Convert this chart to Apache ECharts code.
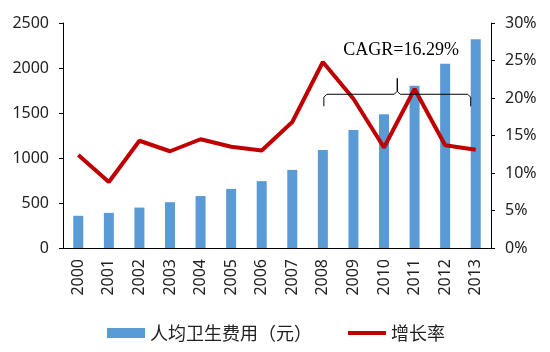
<!DOCTYPE html>
<html>
<head>
<meta charset="utf-8">
<script src="https://cdn.jsdelivr.net/npm/echarts@6/dist/echarts.min.js"></script>
<style>
  html, body { margin: 0; padding: 0; background: #fff; }
  #main { width: 550px; height: 352px; }
</style>
</head>
<body>
<div id="main"></div>
<script>
var years = ["2000", "2001", "2002", "2003", "2004", "2005", "2006", "2007", "2008", "2009", "2010", "2011", "2012", "2013"];
// 人均卫生费用（元）
var perCapita = [358, 390, 449, 509, 577, 657, 743, 868, 1090, 1312, 1487, 1803, 2048, 2320];
// 增长率 (%)
var growthRate = [12.4, 8.8, 14.3, 12.9, 14.5, 13.5, 13.0, 16.8, 24.8, 19.9, 13.4, 21.2, 13.7, 13.1];
var leftTicks = { min: 0, max: 2500, interval: 500 };
var rightTicks = { min: 0, max: 30, interval: 5 };
var cagrText = "CAGR=16.29%";

var myChart = echarts.init(document.getElementById("main"));

var labelFont = { fontFamily: "Noto Sans", fontSize: 16, color: "#222" };

var option = {
  animation: false,
  grid: { left: 63, right: 59, top: 23, bottom: 104 },
  legend: {
    bottom: 5,
    left: 102,
    itemGap: 34,
    itemWidth: 38,
    itemHeight: 10,
    textStyle: { fontFamily: "Noto Sans CJK SC", fontSize: 18, color: "#222" },
    data: [
      { name: "人均卫生费用（元）", icon: "rect" },
      { name: "增长率", itemStyle: { opacity: 0 }, lineStyle: { width: 4, color: "#C00000" } }
    ]
  },
  xAxis: {
    type: "category",
    data: years,
    axisLine: { lineStyle: { color: "#000", width: 1 } },
    axisTick: { show: false },
    axisLabel: Object.assign({ rotate: 90, margin: 11 }, labelFont)
  },
  yAxis: [
    {
      type: "value",
      min: leftTicks.min,
      max: leftTicks.max,
      interval: leftTicks.interval,
      axisLine: { show: true, lineStyle: { color: "#000" } },
      axisTick: { show: true, length: 4, lineStyle: { color: "#000" } },
      splitLine: { show: false },
      axisLabel: Object.assign({ margin: 14, formatter: function (v) { return String(v); } }, labelFont)
    },
    {
      type: "value",
      min: rightTicks.min,
      max: rightTicks.max,
      interval: rightTicks.interval,
      axisLine: { show: true, lineStyle: { color: "#000" } },
      axisTick: { show: true, length: 4, lineStyle: { color: "#000" } },
      splitLine: { show: false },
      axisLabel: Object.assign({ margin: 14, formatter: function (v) { return v + "%"; } }, labelFont)
    }
  ],
  series: [
    {
      name: "人均卫生费用（元）",
      type: "bar",
      data: perCapita,
      barWidth: 10,
      itemStyle: { color: "#5B9BD5" }
    },
    {
      name: "增长率",
      type: "line",
      yAxisIndex: 1,
      data: growthRate,
      symbol: "none",
      lineStyle: { color: "#C00000", width: 4 },
      itemStyle: { color: "#C00000" },
      z: 5
    }
  ]
};

myChart.setOption(option);

/* -- brace + CAGR label, placed from the axis scale -- */
var p0 = myChart.convertToPixel({ xAxisIndex: 0 }, "2008");
var p1 = myChart.convertToPixel({ xAxisIndex: 0 }, "2013");
var yLine = myChart.convertToPixel({ yAxisIndex: 1 }, 20.5);
var xl = p0 + 1, xr = p1 - 5, xm = (xl + xr) / 2;

myChart.setOption({
  graphic: [
    {
      type: "polyline",
      shape: {
        points: [
          [xl, yLine + 12], [xl, yLine + 3], [xl + 3, yLine],
          [xm - 3, yLine], [xm, yLine - 3], [xm, yLine - 16],
          [xm, yLine - 3], [xm + 3, yLine],
          [xr - 3, yLine], [xr, yLine + 3], [xr, yLine + 12]
        ]
      },
      style: { fill: null, stroke: "#000", lineWidth: 1 },
      z: 10
    },
    {
      type: "text",
      x: xm - 54,
      y: yLine - 53,
      style: {
        text: cagrText,
        font: "18px 'Liberation Serif'",
        fill: "#000"
      },
      z: 10
    }
  ]
});
</script>
</body>
</html>
